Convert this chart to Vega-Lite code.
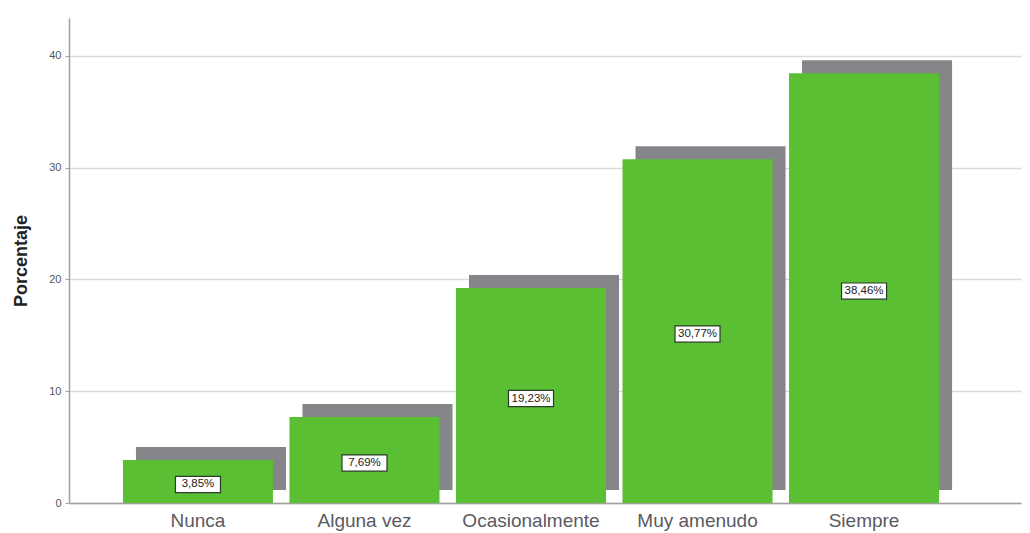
{
  "$schema": "https://vega.github.io/schema/vega-lite/v6.json",
  "width": 952,
  "height": 485,
  "autosize": {"type": "none"},
  "padding": {"left": 69, "top": 18, "right": 9, "bottom": 30},
  "background": "white",
  "config": {
    "view": {"stroke": null},
    "font": "Liberation Sans"
  },
  "data": {
    "values": [
      {"categoria": "Nunca", "porcentaje": 3.85, "etiqueta": "3,85%"},
      {"categoria": "Alguna vez", "porcentaje": 7.69, "etiqueta": "7,69%"},
      {"categoria": "Ocasionalmente", "porcentaje": 19.23, "etiqueta": "19,23%"},
      {"categoria": "Muy amenudo", "porcentaje": 30.77, "etiqueta": "30,77%"},
      {"categoria": "Siempre", "porcentaje": 38.46, "etiqueta": "38,46%"}
    ]
  },
  "encoding": {
    "x": {
      "field": "categoria",
      "type": "nominal",
      "sort": null,
      "scale": {"paddingInner": 0.099, "paddingOuter": 0.408, "align": 0.397},
      "axis": {
        "title": null,
        "labelAngle": 0,
        "labelFontSize": 19,
        "labelColor": "#5a5a62",
        "labelFont": "Liberation Sans",
        "ticks": false,
        "labelPadding": 8,
        "domainColor": "#a0a0a0",
        "domainWidth": 1.5,
        "grid": false
      }
    }
  },
  "layer": [
    {
      "encoding": {
        "y": {
          "field": "porcentaje",
          "type": "quantitative",
          "scale": {"domain": [0, 43.4], "nice": false, "zero": true},
          "axis": {
            "title": "Porcentaje",
            "titleFontSize": 18,
            "titleFontWeight": "bold",
            "titleColor": "#222222",
            "titleFont": "Liberation Sans",
            "titlePadding": 18,
            "values": [0, 10, 20, 30, 40],
            "labelFontSize": 11,
            "labelColor": "#555555",
            "labelPadding": 4,
            "tickSize": 4,
            "tickColor": "#a0a0a0",
            "domainColor": "#a0a0a0",
            "domainWidth": 1.5,
            "grid": true,
            "gridColor": "#dadada",
            "gridWidth": 1.5
          }
        }
      },
      "layer": [
        {
          "mark": {"type": "bar", "color": "#868589", "xOffset": 13, "x2Offset": 13, "yOffset": -13, "y2Offset": -13}
        },
        {
          "mark": {"type": "bar", "color": "#5BBF33"}
        }
      ]
    },
    {
      "encoding": {
        "y": {
          "field": "porcentaje",
          "type": "quantitative",
          "scale": {"domain": [0, 86.8], "nice": false, "zero": true},
          "axis": null
        }
      },
      "layer": [
        {
          "mark": {
            "type": "point",
            "shape": "M-1,-0.36H1V0.36H-1Z",
            "size": 2025,
            "filled": true,
            "fill": "white",
            "stroke": "#2a3a2a",
            "strokeWidth": 1.2,
            "opacity": 1,
            "yOffset": 3
          }
        },
        {
          "mark": {
            "type": "text",
            "fontSize": 11.5,
            "color": "#222222",
            "font": "Liberation Sans",
            "align": "center",
            "baseline": "middle",
            "yOffset": 3
          },
          "encoding": {"text": {"field": "etiqueta"}}
        }
      ]
    }
  ],
  "resolve": {"scale": {"y": "independent"}}
}
